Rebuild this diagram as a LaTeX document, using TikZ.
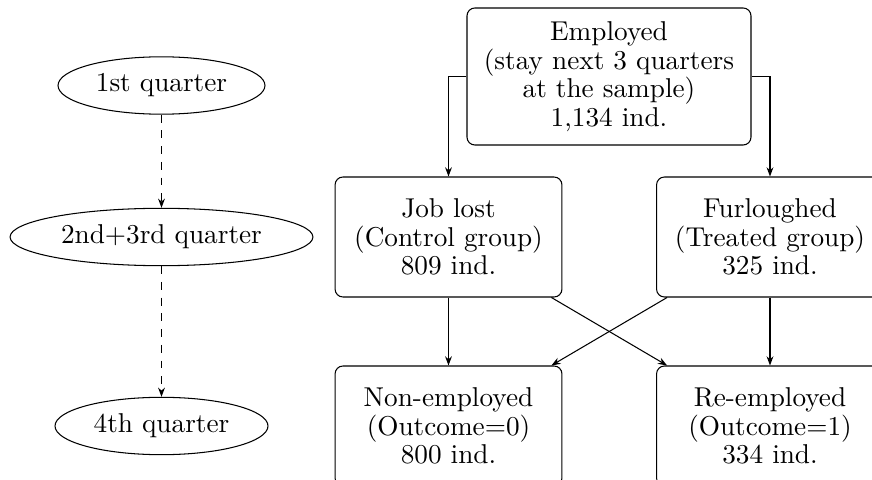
\documentclass[tikz,border=0pt]{standalone}
\usetikzlibrary{shapes.geometric,arrows.meta}
\begin{document}
\begin{tikzpicture}[x=0.3817pt,y=-0.3817pt,
  every node/.style={font=\fontsize{10.4}{10.9}\selectfont},
  box/.style={draw,rounded corners=3pt,align=center,minimum width=86.6pt,minimum height=45.8pt,inner sep=0pt},
  oval/.style={draw,ellipse,inner sep=0pt,minimum height=21.9pt},
  arr/.style={-{Stealth[length=3.5pt,width=2.6pt]}},
  darr/.style={arr,dashed}]
\path[use as bounding box,clip] (0,0) rectangle (872,480);
% left timeline
\node[oval,minimum width=79pt] (q1) at (161.5,85.5) {1st quarter};
\node[oval,minimum width=115.6pt] (q23) at (161.5,237) {2nd+3rd quarter};
\node[oval,minimum width=81.3pt] (q4) at (161.5,426) {4th quarter};
\draw[darr] (q1) -- (q23);
\draw[darr] (q23) -- (q4);
% flow boxes
\node[box,minimum width=108.4pt,minimum height=52.3pt] (emp) at (609,76.5) {Employed\\(stay next 3 quarters\\at the sample)\\1,134 ind.};
\node[box] (jl) at (448.5,237) {Job lost\\(Control group)\\809 ind.};
\node[box] (fur) at (770,237) {Furloughed\\(Treated group)\\325 ind.};
\node[box] (ne) at (448.5,426) {Non-employed\\(Outcome=0)\\800 ind.};
\node[box] (re) at (770,426) {Re-employed\\(Outcome=1)\\334 ind.};
\draw[arr] (emp.west) -| (jl);
\draw[arr] (emp.east) -| (fur);
\draw[arr] (jl) -- (ne);
\draw[arr] (fur) -- (re);
\draw[arr] (jl) -- (re);
\draw[arr] (fur) -- (ne);
\end{tikzpicture}
\end{document}
